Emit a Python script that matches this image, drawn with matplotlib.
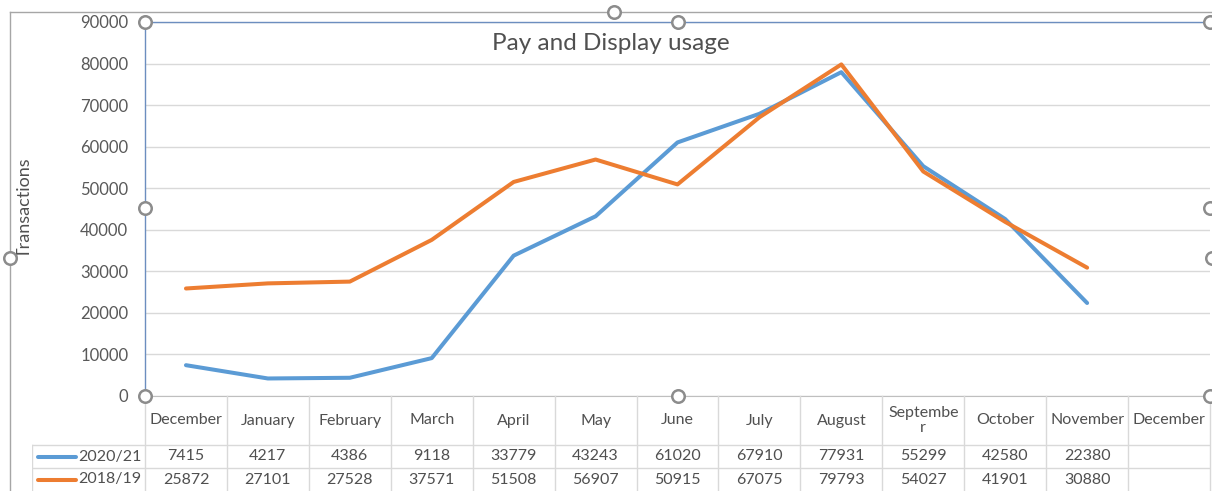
import numpy as np
import matplotlib.pyplot as plt
from matplotlib.lines import Line2D

months = ['December', 'January', 'February', 'March', 'April', 'May', 'June',
          'July', 'August', 'Septembe\nr', 'October', 'November', 'December']
usage_2021 = [7415, 4217, 4386, 9118, 33779, 43243, 61020, 67910, 77931, 55299, 42580, 22380]
usage_1819 = [25872, 27101, 27528, 37571, 51508, 56907, 50915, 67075, 79793, 54027, 41901, 30880]
series_names = ['2020/21', '2018/19']
series_colors = ['#5B9BD5', '#ED7D31']
yticks = np.arange(0, 90001, 10000)

plt.rcParams['font.family'] = ['Lato', 'DejaVu Sans']
W, H = 1212, 491
fig = plt.figure(figsize=(W / 100, H / 100), dpi=100)

def fx(px):
    return px / W

def fy(py):
    return 1 - py / H

text_col = '#505050'
grid_col = '#d9d9d9'

# main plot area
ax_l, ax_r, ax_t, ax_b = 145, 1210, 22, 396
ax = fig.add_axes([fx(ax_l), fy(ax_b), fx(ax_r - ax_l), (ax_b - ax_t) / H])
x = np.arange(len(usage_2021))
for vals, name, col in zip([usage_2021, usage_1819], series_names, series_colors):
    ax.plot(x, vals, color=col, lw=2.9, solid_capstyle='round', label=name)
n_cols = len(months)
ax.set_xlim(-0.5, n_cols - 0.5)
ax.set_ylim(0, 90000)
ax.set_yticks(yticks)
ax.set_yticklabels([str(v) for v in yticks])
ax.set_xticks([])
ax.grid(axis='y', color=grid_col, lw=1)
ax.set_axisbelow(True)
ax.tick_params(axis='y', length=0, pad=12, labelsize=12, labelcolor='#595959')
for s in ['top', 'left']:
    ax.spines[s].set_color('#6C8EBF')
    ax.spines[s].set_linewidth(1)
ax.spines['right'].set_visible(False)
ax.spines['bottom'].set_color('#bfbfbf')

fig.text(fx(611), fy(44), 'Pay and Display usage', ha='center', va='center',
         fontsize=17.5, color=text_col)
fig.text(fx(25), fy(208), 'Transactions', rotation=90, ha='center', va='center',
         fontsize=13, color=text_col)

# data table
tab_l = 32
unit = (ax_r - ax_l) / n_cols
tx = fig.add_axes([fx(tab_l), 0, fx(ax_r - tab_l), (H - ax_b) / H])
tx.set_xlim(-0.5 - (ax_l - tab_l) / unit, n_cols - 0.5)
tx.set_ylim(H - ax_b, 0)
tx.axis('off')
hdr_h, row_h = 49, 23
for i in range(n_cols + 1):
    tx.plot([i - 0.5, i - 0.5], [0, H - ax_b], color=grid_col, lw=1, clip_on=False)
for yy in [hdr_h, hdr_h + row_h]:
    tx.plot([tx.get_xlim()[0], n_cols - 0.5], [yy, yy], color=grid_col, lw=1)
tx.plot([tx.get_xlim()[0]] * 2, [hdr_h, H - ax_b], color=grid_col, lw=1)
for i, m in enumerate(months):
    tx.text(i, hdr_h / 2, m, ha='center', va='center', fontsize=11.5, color=text_col,
            linespacing=1.0)
x0 = tx.get_xlim()[0]
for r, (vals, name, col) in enumerate(zip([usage_2021, usage_1819], series_names, series_colors)):
    yc = hdr_h + row_h * r + row_h / 2
    tx.plot([x0 + 6 / unit, x0 + 44 / unit], [yc, yc], color=col, lw=2.9,
            solid_capstyle='round')
    tx.text(x0 + 46 / unit, yc, name, ha='left', va='center', fontsize=11.5, color=text_col)
    for i, v in enumerate(vals):
        tx.text(i, yc, str(v), ha='center', va='center', fontsize=11.5, color=text_col)

# chart frame and selection handles
fig.add_artist(Line2D([fx(10), fx(10)], [fy(12), 0], color='#a6a6a6', lw=1))
fig.add_artist(Line2D([fx(10), 1], [fy(12), fy(12)], color='#a6a6a6', lw=1))
handles = [(145, 22), (678, 22), (1210, 22), (145, 208), (1210, 208),
           (145, 396), (678, 396), (1210, 396), (614, 12), (10, 258), (1212, 258)]
for hx, hy in handles:
    fig.add_artist(Line2D([fx(hx)], [fy(hy)], marker='o', markersize=9,
                          markerfacecolor='white', markeredgecolor='#8c8c8c',
                          markeredgewidth=1.8, zorder=10))

fig.savefig('out.png', dpi=100)
